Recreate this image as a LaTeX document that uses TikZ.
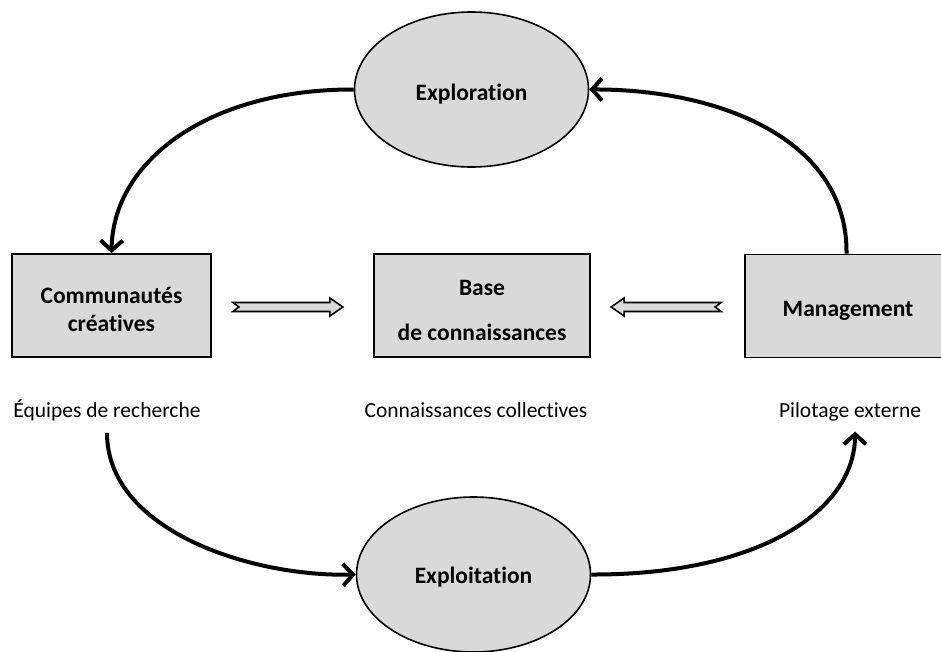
\documentclass[tikz,border=0pt]{standalone}
\usepackage{fontspec}
\setmainfont[Ligatures=NoCommon]{Carlito}
\usetikzlibrary{shapes.geometric,arrows.meta,calc}
\definecolor{boxgray}{HTML}{D9D9D9}
\begin{document}
\begin{tikzpicture}[x=1pt,y=-1pt,
  every node/.style={font=\fontsize{21.5}{27}\selectfont},
  ovalnode/.style={ellipse,draw,line width=1.6pt,fill=boxgray,minimum width=234pt,minimum height=155pt,inner sep=0pt,font=\fontsize{23.5}{28}\selectfont\bfseries},
  boxnode/.style={rectangle,draw,line width=1.8pt,fill=boxgray,inner sep=0pt,align=center,font=\fontsize{23.5}{28}\selectfont\bfseries},
  labelnode/.style={inner sep=0pt},
  flow/.style={line width=4pt,-{Straight Barb[length=10pt,width=22pt,line width=4pt]}},
  hollow/.style={draw,line width=1.6pt,fill=boxgray,line join=miter}
]
\useasboundingbox (0,0) rectangle (941,651);
\node[ovalnode] (explo) at (471.5,89.5) {\rule{0pt}{25pt}Exploration};
\node[ovalnode] (exploit) at (473.5,574.5) {\rule{0pt}{22pt}Exploitation};
\node[boxnode,minimum width=199pt,minimum height=103pt] (com) at (111.5,305.5) {\rule{0pt}{25pt}Communautés\\créatives};
\node[boxnode,minimum width=216pt,minimum height=103pt] (base) at (482,305.5) {\rule{0pt}{25pt}Base\\[17pt]de connaissances};
\node[boxnode,minimum width=203pt,minimum height=103pt] (mgmt) at (846.5,306) {\rule{0pt}{25pt}\hspace*{3pt}Management};
\node[labelnode] (equipes) at (107,410) {Équipes de recherche};
\node[labelnode] (collect) at (476,410) {Connaissances collectives};
\node[labelnode] (pilot) at (850,412) {Pilotage externe};

% curved arrows
\draw[flow] (explo.west) .. controls (210,89) and (113,160) .. (com.north);
\draw[flow] (mgmt.north) .. controls (848,140) and (720,89) .. (explo.east);
\coordinate (e1) at ($(equipes.south)+(0,12)$);
\draw[flow] (e1) .. controls (107,530) and (250,577) .. (exploit.west);
\coordinate (p1) at ($(pilot.south)+(5,10)$);
\draw[flow] (exploit.east) .. controls (760,575) and (855,510) .. (p1);

% hollow double arrows
\coordinate (la) at ($(com.east)+(21,1.5)$);
\draw[hollow] (la) ++(0,-4.5) -- ++(97,0) -- ++(0,-4.5) -- ++(13,9) -- ++(-13,9) -- ++(0,-4.5) -- ++(-97,0) -- ++(6,-4.5) -- cycle;
\coordinate (ra) at ($(mgmt.west)+(-23,1)$);
\draw[hollow] (ra) ++(0,-4.5) -- ++(-97,0) -- ++(0,-4.5) -- ++(-13,9) -- ++(13,9) -- ++(0,-4.5) -- ++(97,0) -- ++(-6,-4.5) -- cycle;
\end{tikzpicture}
\end{document}
